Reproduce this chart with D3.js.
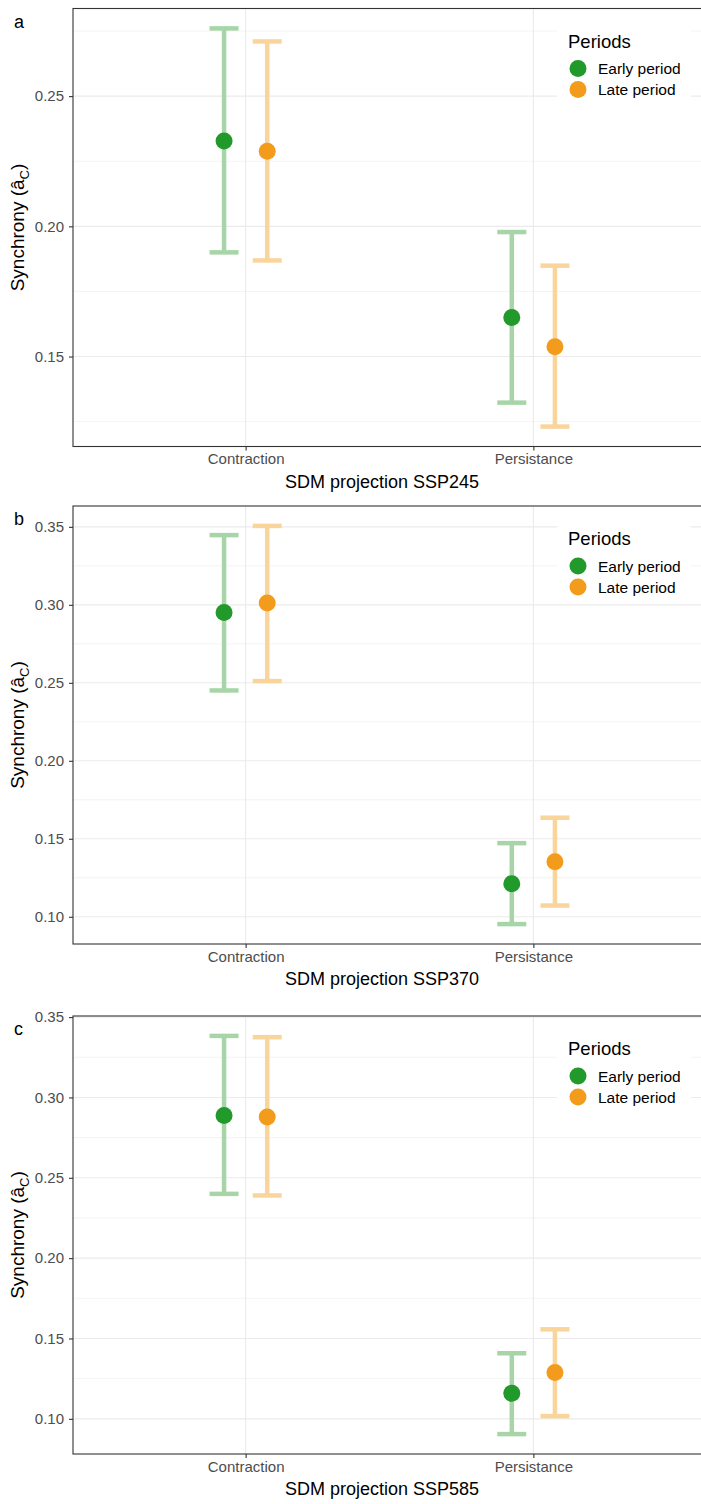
<!DOCTYPE html>
<html>
<head>
<meta charset="utf-8">
<script src="https://cdn.jsdelivr.net/npm/d3@7"></script>
<style>
  body { margin: 0; background: #fff; }
  text { font-family: 'Liberation Sans', Arial, Helvetica, sans-serif; }
</style>
</head>
<body>
<svg id="chart"></svg>
<script>
const categories = ['Contraction', 'Persistance']
const periods = ['Early period', 'Late period']
const panelLetters = ['a', 'b', 'c']
const scenarios = ['SSP245', 'SSP370', 'SSP585']

// one row per panel, values in category order
const earlyMean  = [[0.2328, 0.1650], [0.2951, 0.1212], [0.2888, 0.1159]]
const earlyLower = [[0.1900, 0.1323], [0.2451, 0.0953], [0.2400, 0.0905]]
const earlyUpper = [[0.2760, 0.1978], [0.3447, 0.1472], [0.3383, 0.1408]]
const lateMean   = [[0.2288, 0.1538], [0.3011, 0.1353], [0.2879, 0.1288]]
const lateLower  = [[0.1869, 0.1231], [0.2511, 0.1072], [0.2390, 0.1017]]
const lateUpper  = [[0.2710, 0.1849], [0.3506, 0.1635], [0.3375, 0.1557]]

const width = 701, height = 1504
const left = 73, right = 706, panelH = 438
const panelTops = [8.5, 506, 1016]

const colors = { 'Early period': '#229A2B', 'Late period': '#F39C1C' }
const barColors = { 'Early period': '#A7D5A7', 'Late period': '#F9D49B' }
const fontStack = "'Liberation Sans', Arial, sans-serif"

let svg = d3.select('#chart')
  .attr('width', width)
  .attr('height', height)

let scX = d3.scalePoint()
  .domain(categories)
  .range([left, right])
  .padding(0.6)

let dodge = d3.scalePoint()
  .domain(periods)
  .range([-0.075 * scX.step(), 0.075 * scX.step()])

panelLetters.forEach((letter, p) => {
  const top = panelTops[p], bottom = top + panelH

  let rows = []
  categories.forEach((c, i) => {
    rows.push({ cat: c, period: periods[0], mean: earlyMean[p][i], lo: earlyLower[p][i], hi: earlyUpper[p][i] })
    rows.push({ cat: c, period: periods[1], mean: lateMean[p][i], lo: lateLower[p][i], hi: lateUpper[p][i] })
  })

  let lo = d3.min(rows, d => d.lo), hi = d3.max(rows, d => d.hi)
  let pad = (hi - lo) * 0.05

  let scY = d3.scaleLinear()
    .domain([lo - pad, hi + pad])
    .range([bottom, top])

  let g = svg.append('g')

  let major = scY.ticks(5)
  let step = major[1] - major[0]
  let minor = [major[0] - step / 2].concat(major.map(t => t + step / 2))
    .filter(t => t > scY.domain()[0] && t < scY.domain()[1])

  g.selectAll('.minor').data(minor).enter().append('line')
    .attr('x1', left).attr('x2', right)
    .attr('y1', d => scY(d)).attr('y2', d => scY(d))
    .attr('stroke', '#ebebeb').attr('stroke-width', 0.6)

  g.selectAll('.major').data(major).enter().append('line')
    .attr('x1', left).attr('x2', right)
    .attr('y1', d => scY(d)).attr('y2', d => scY(d))
    .attr('stroke', '#ebebeb').attr('stroke-width', 1.1)

  g.selectAll('.vgrid').data(categories).enter().append('line')
    .attr('x1', d => scX(d)).attr('x2', d => scX(d))
    .attr('y1', top).attr('y2', bottom)
    .attr('stroke', '#ebebeb').attr('stroke-width', 1.1)

  // error bars
  let bars = g.selectAll('.bar').data(rows).enter().append('g')
    .attr('transform', d => `translate(${scX(d.cat) + dodge(d.period)},0)`)
  bars.append('line')
    .attr('y1', d => scY(d.lo)).attr('y2', d => scY(d.hi))
    .attr('stroke', d => barColors[d.period]).attr('stroke-width', 4.5)
  bars.append('line')
    .attr('x1', -14.5).attr('x2', 14.5)
    .attr('y1', d => scY(d.hi)).attr('y2', d => scY(d.hi))
    .attr('stroke', d => barColors[d.period]).attr('stroke-width', 4.5)
  bars.append('line')
    .attr('x1', -14.5).attr('x2', 14.5)
    .attr('y1', d => scY(d.lo)).attr('y2', d => scY(d.lo))
    .attr('stroke', d => barColors[d.period]).attr('stroke-width', 4.5)
  bars.append('circle')
    .attr('cy', d => scY(d.mean))
    .attr('r', 8.5)
    .attr('fill', d => colors[d.period])

  // panel border
  g.append('rect')
    .attr('x', left).attr('y', top)
    .attr('width', right - left).attr('height', panelH)
    .attr('fill', 'none').attr('stroke', '#333').attr('stroke-width', 1.1)

  let axY = d3.axisLeft(scY).tickValues(major).tickFormat(d3.format('.2f')).tickSize(4).tickPadding(5)
  let ay = g.append('g').attr('transform', `translate(${left},0)`).call(axY)
  ay.select('.domain').remove()
  ay.selectAll('line').attr('stroke', '#333').attr('stroke-width', 1.1)
  ay.selectAll('text').attr('fill', '#4d4d4d').style('font-size', '15px')
    .style('font-family', fontStack)

  let axX = d3.axisBottom(scX).tickSize(4).tickPadding(3)
  let ax = g.append('g').attr('transform', `translate(0,${bottom})`).call(axX)
  ax.select('.domain').remove()
  ax.selectAll('line').attr('stroke', '#333').attr('stroke-width', 1.1)
  ax.selectAll('text').attr('fill', '#4d4d4d').style('font-size', '15px')
    .style('font-family', fontStack)

  g.append('text')
    .attr('x', 382).attr('y', bottom + 41)
    .attr('text-anchor', 'middle').style('font-size', '18px').attr('fill', '#000')
    .text('SDM projection ' + scenarios[p])

  let yl = g.append('text')
    .attr('transform', `translate(24,${top + panelH / 2}) rotate(-90)`)
    .attr('text-anchor', 'middle').style('font-size', '19px').attr('fill', '#000')
  yl.append('tspan').text('Synchrony (â')
  yl.append('tspan').attr('dy', 5).style('font-size', '13px').text('C')
  yl.append('tspan').attr('dy', -5).text(')')

  g.append('text')
    .attr('x', 14).attr('y', top + 19)
    .style('font-size', '18px').attr('fill', '#000')
    .text(letter)

  // legend
  let lg = g.append('g').attr('transform', `translate(557,${top + 18})`)
  lg.append('rect').attr('width', 134).attr('height', 76).attr('fill', '#fff')
  lg.append('text').attr('x', 11).attr('y', 21)
    .style('font-size', '18.5px').attr('fill', '#000').text('Periods')
  periods.forEach((per, i) => {
    lg.append('circle').attr('cx', 21).attr('cy', 42 + i * 21)
      .attr('r', 8.5).attr('fill', colors[per])
    lg.append('text').attr('x', 41).attr('y', 47.5 + i * 21)
      .style('font-size', '15.5px').attr('fill', '#000').text(per)
  })
})
</script>
</body>
</html>
